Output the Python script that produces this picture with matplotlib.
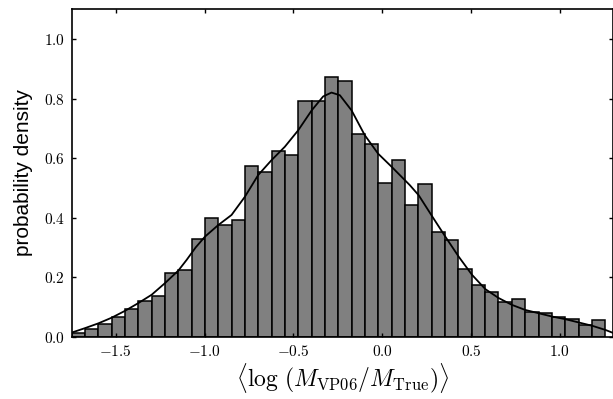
import numpy as np
import matplotlib
matplotlib.use("Agg")
import matplotlib.pyplot as plt
from matplotlib import ticker

plt.rcParams['mathtext.fontset'] = 'cm'

# histogram: 40 bins starting at the data minimum
bin_start = -1.748
bin_width = 0.0751
heights = [0.012, 0.027, 0.043, 0.068, 0.094, 0.119, 0.136, 0.213, 0.224, 0.329,
           0.398, 0.374, 0.392, 0.573, 0.554, 0.624, 0.609, 0.791, 0.792, 0.873,
           0.860, 0.680, 0.648, 0.517, 0.595, 0.441, 0.513, 0.351, 0.324, 0.229,
           0.173, 0.150, 0.117, 0.126, 0.084, 0.080, 0.068, 0.058, 0.039, 0.055]

# density curve
kde_x = [-1.748, -1.673, -1.598, -1.523, -1.448, -1.373, -1.298, -1.223, -1.148, -1.101,
         -1.050, -0.998, -0.923, -0.848, -0.773, -0.698, -0.623, -0.548, -0.473, -0.397,
         -0.332, -0.285, -0.238, -0.172, -0.098, -0.023, 0.053, 0.156, 0.206, 0.281,
         0.356, 0.431, 0.506, 0.581, 0.656, 0.731, 0.806, 0.881, 0.956, 1.032,
         1.107, 1.182, 1.257, 1.300]
kde_y = [0.014, 0.029, 0.045, 0.064, 0.087, 0.113, 0.141, 0.180, 0.222, 0.258,
         0.300, 0.336, 0.375, 0.409, 0.470, 0.543, 0.593, 0.638, 0.693, 0.760,
         0.807, 0.820, 0.811, 0.760, 0.677, 0.615, 0.571, 0.509, 0.475, 0.405,
         0.336, 0.269, 0.208, 0.160, 0.130, 0.107, 0.090, 0.079, 0.068, 0.059,
         0.048, 0.037, 0.023, 0.013]

xticks = [-1.5, -1.0, -0.5, 0.0, 0.5, 1.0]
yticks = [0.0, 0.2, 0.4, 0.6, 0.8, 1.0]

fig = plt.figure(figsize=(6.13, 3.99), dpi=100)
ax = fig.add_axes([0.117, 0.156, 0.883, 0.821])

lefts = bin_start + bin_width * np.arange(len(heights))
ax.bar(lefts, heights, width=bin_width, align='edge', color='#808080',
       edgecolor='black', linewidth=1.1)
ax.plot(kde_x, kde_y, color='black', lw=1.3)

ax.set_xlim(-1.748, 1.30)
ax.set_ylim(0, 1.1)
ax.set_xticks(xticks)
ax.set_yticks(yticks)
ax.xaxis.set_major_formatter(ticker.FuncFormatter(lambda v, p: r'$%.1f$' % v))
ax.yaxis.set_major_formatter(ticker.FuncFormatter(lambda v, p: r'$%.1f$' % v))
ax.tick_params(direction='in', top=True, right=True, length=3.2, width=1,
               labelsize=11, pad=5)
for s in ax.spines.values():
    s.set_linewidth(1.2)

ax.set_xlabel(r'$\langle\log\,(M_{\rm VP06}/M_{\rm True})\rangle$', fontsize=17, labelpad=2)
ax.set_ylabel('probability density', fontsize=15, family='Liberation Sans', labelpad=8)

fig.savefig('out.png', dpi=100)
